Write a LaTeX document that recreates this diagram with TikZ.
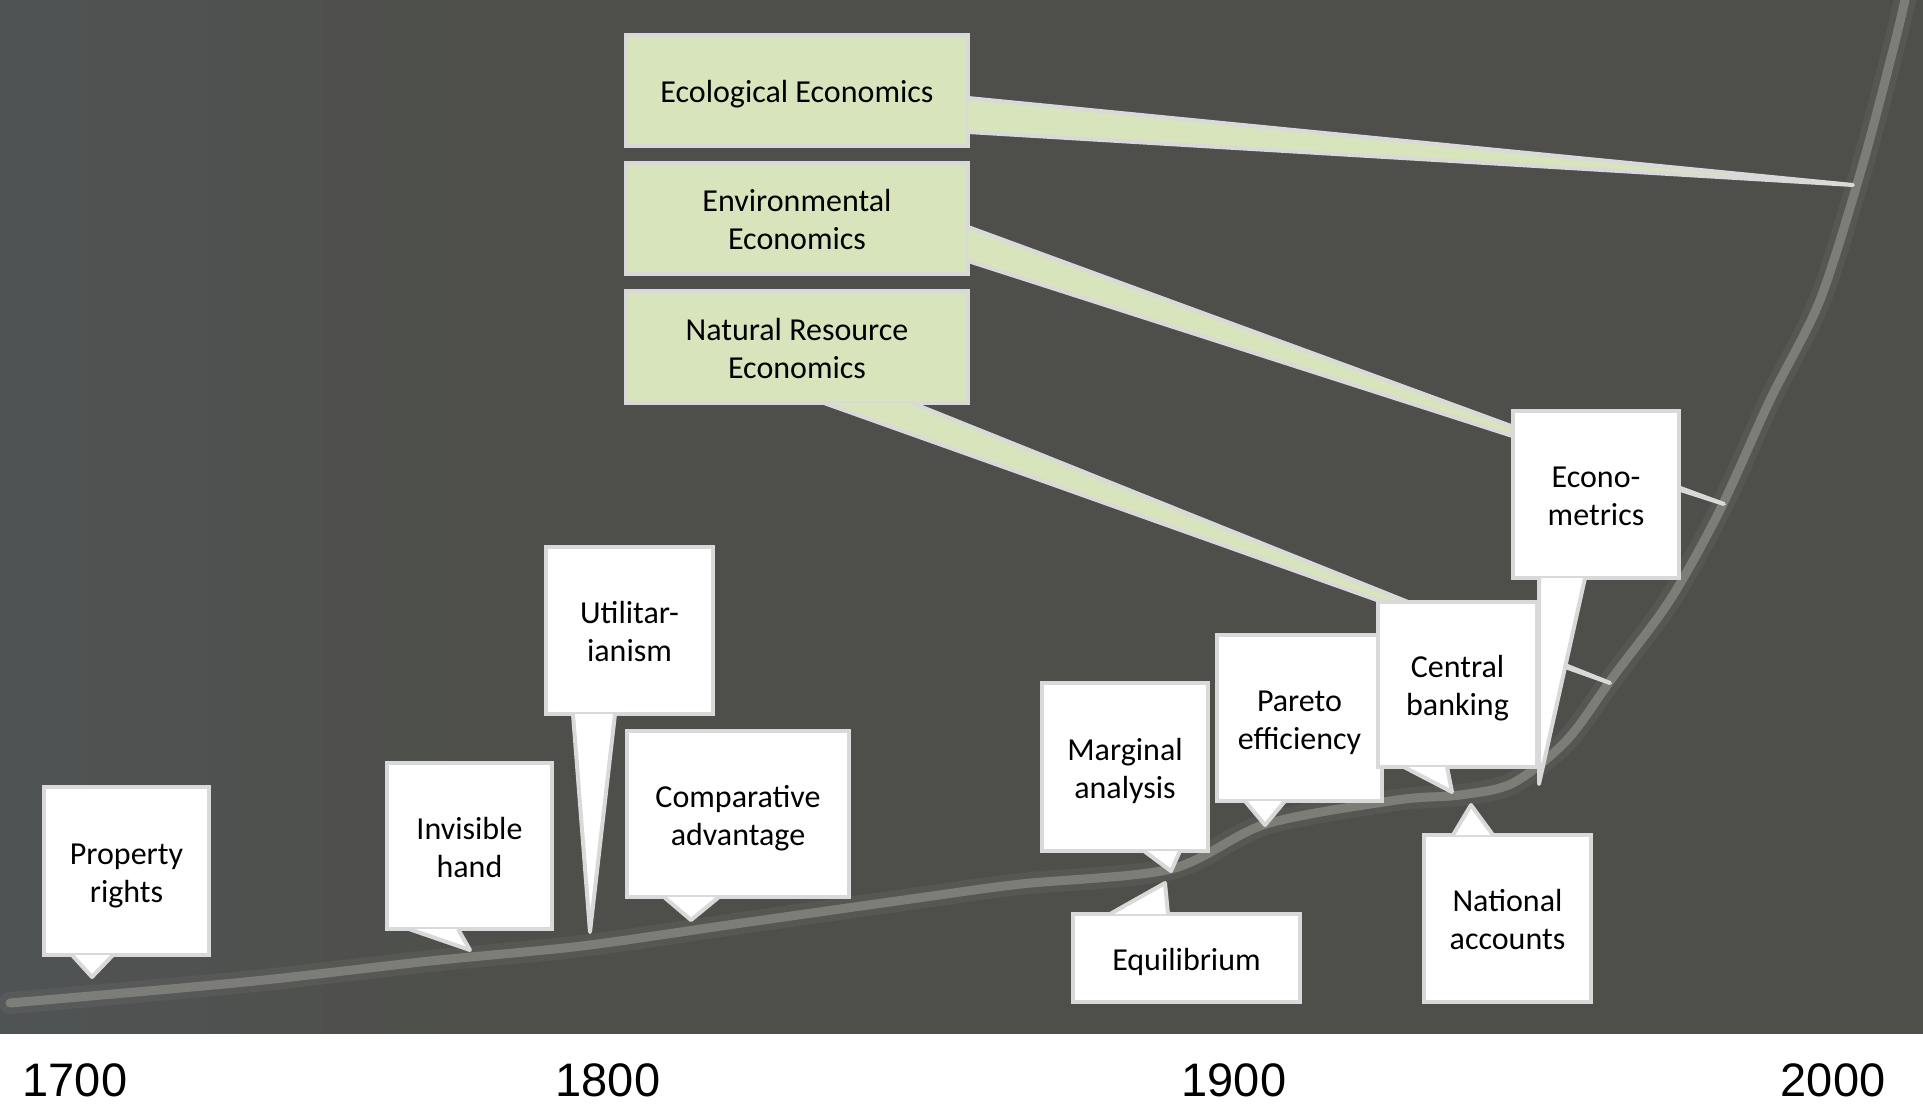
\documentclass[tikz,border=0pt]{standalone}
\usepackage{fontspec}
\setmainfont{Carlito}
\newfontfamily\yearfont{Liberation Sans}
\definecolor{panel}{RGB}{78,79,74}
\definecolor{panelblue}{RGB}{83,89,98}
\definecolor{trail}{RGB}{134,135,129}
\definecolor{rim}{RGB}{217,217,217}
\definecolor{sage}{RGB}{216,228,188}
\pgfdeclarehorizontalshading{panelshade}{100bp}{color(0bp)=(panelblue);
  color(12bp)=(panelblue!85!panel); color(38bp)=(panel); color(100bp)=(panel)}
\begin{document}
\begin{tikzpicture}[x=1pt,y=-1pt,
    idea/.style={draw=rim,line width=4pt,fill=white,align=center,inner sep=0pt,
      text height=62pt,text depth=0pt,font=\fontsize{32}{38}\selectfont},
    oneline/.style={text height=24pt},
    field/.style={idea,fill=sage,minimum width=342pt},
    tail/.style={draw=rim,line width=4pt,line join=round,fill=white},
    greentail/.style={tail,fill=sage},
    year/.style={font=\yearfont\fontsize{47}{56}\selectfont}]
  \useasboundingbox (0,0) rectangle (1923,1112);
  % background panel
  \shade[shading=panelshade] (0,0) rectangle (1923,1033);
  % growth curve
  \begin{scope}
    \clip (0,0) rectangle (1923,1033);
    \draw[trail,line width=22pt,opacity=0.15,line cap=round]
      plot[smooth,tension=0.5] coordinates {(10,1003) (245,982) (430,961) (582,946)
        (735,924) (918,898) (1021,884) (1171,869) (1266,824) (1397,800) (1460,795)
        (1513,783) (1567,740) (1613,677) (1670,600) (1720,510) (1770,400) (1820,300)
        (1862,167) (1893,50) (1905,0)};
    \draw[trail,line width=9pt,opacity=0.8,line cap=round]
      plot[smooth,tension=0.5] coordinates {(10,1003) (245,982) (430,961) (582,946)
        (735,924) (918,898) (1021,884) (1171,869) (1266,824) (1397,800) (1460,795)
        (1513,783) (1567,740) (1613,677) (1670,600) (1720,510) (1770,400) (1820,300)
        (1862,167) (1893,50) (1905,0)};
  \end{scope}
  % tips of the callouts
  \coordinate (ecotip) at (1853,185);
  \coordinate (envtip) at (1724,504);
  \coordinate (nattip) at (1610,683);
  \coordinate (proptip) at (92,977);
  \coordinate (invistip) at (470,950);
  \coordinate (utiltip) at (590,932);
  \coordinate (comptip) at (691,920);
  \coordinate (margtip) at (1171,871);
  \coordinate (equiltip) at (1165,883);
  \coordinate (paretotip) at (1265,825);
  \coordinate (centraltip) at (1452,792);
  \coordinate (natacctip) at (1471,805);
  \coordinate (econtip) at (1539,784);
  % fields
  \node[field,oneline,minimum height=111pt] (eco) at (797,90.5) {Ecological Economics};
  \draw[greentail] ([xshift=-2pt,yshift=-7.5pt]eco.east) -- (ecotip)
    -- ([xshift=-2pt,yshift=-41.5pt]eco.east);
  \node[field,minimum height=111pt] (env) at (797,218.5) {Environmental\\Economics};
  \draw[greentail] ([xshift=-2pt,yshift=-8.5pt]env.east) -- (envtip)
    -- ([xshift=-2pt,yshift=-42.5pt]env.east);
  \node[field,minimum height=112pt] (nat) at (797,347) {Natural Resource\\Economics};
  \draw[greentail] ([xshift=27pt,yshift=2pt]nat.south) -- (nattip)
    -- ([xshift=115pt,yshift=2pt]nat.south);
  % ideas along the curve
  \node[idea,minimum width=165pt,minimum height=168pt] (prop) at (126.5,871) {Property\\rights};
  \draw[tail] ([xshift=-54.5pt,yshift=2pt]prop.south) -- (proptip)
    -- ([xshift=-13.5pt,yshift=2pt]prop.south);
  \node[idea,minimum width=165pt,minimum height=166pt] (invis) at (469.5,846) {Invisible\\hand};
  \draw[tail] ([xshift=-60.5pt,yshift=2pt]invis.south) -- (invistip)
    -- ([xshift=-11.5pt,yshift=2pt]invis.south);
  \node[idea,minimum width=167pt,minimum height=167pt] (util) at (629.5,630.5) {Utilitar-\\ianism};
  \draw[tail] ([xshift=-56.5pt,yshift=2pt]util.south) -- (utiltip)
    -- ([xshift=-14.5pt,yshift=2pt]util.south);
  \node[idea,minimum width=222pt,minimum height=166pt] (comp) at (738,814) {Comparative\\advantage};
  \draw[tail] ([xshift=-74pt,yshift=2pt]comp.south) -- (comptip)
    -- ([xshift=-19pt,yshift=2pt]comp.south);
  \node[idea,minimum width=166pt,minimum height=168pt] (marg) at (1125,767) {Marginal\\analysis};
  \draw[tail] ([xshift=19pt,yshift=2pt]marg.south) -- (margtip)
    -- ([xshift=55pt,yshift=2pt]marg.south);
  \node[idea,oneline,minimum width=227pt,minimum height=88pt] (equil) at (1186.5,958) {Equilibrium};
  \draw[tail] ([xshift=-76.5pt,yshift=-2pt]equil.north) -- (equiltip)
    -- ([xshift=-18.5pt,yshift=-2pt]equil.north);
  \node[idea,minimum width=165pt,minimum height=166pt] (pareto) at (1299.5,718) {Pareto\\efficiency};
  \draw[tail] ([xshift=-54.5pt,yshift=2pt]pareto.south) -- (paretotip)
    -- ([xshift=-14.5pt,yshift=2pt]pareto.south);
  \node[idea,minimum width=159pt,minimum height=165pt] (central) at (1457.5,684.5) {Central\\banking};
  \draw[tail] ([xshift=-53.5pt,yshift=2pt]central.south) -- (centraltip)
    -- ([xshift=-10.5pt,yshift=2pt]central.south);
  \node[idea,minimum width=167pt,minimum height=167pt] (natacc) at (1507.5,918.5) {National\\accounts};
  \draw[tail] ([xshift=-54.5pt,yshift=-2pt]natacc.north) -- (natacctip)
    -- ([xshift=-14.5pt,yshift=-2pt]natacc.north);
  \node[idea,minimum width=166pt,minimum height=167pt] (econ) at (1596,494.5) {Econo-\\metrics};
  \draw[tail] ([xshift=-57pt,yshift=2pt]econ.south) -- (econtip)
    -- ([xshift=-11pt,yshift=2pt]econ.south);
  % years
  \node[year] (y1700) at (75,1080) {1700};
  \node[year] (y1800) at (608,1080) {1800};
  \node[year] (y1900) at (1234,1080) {1900};
  \node[year] (y2000) at (1833,1080) {2000};
\end{tikzpicture}
\end{document}
